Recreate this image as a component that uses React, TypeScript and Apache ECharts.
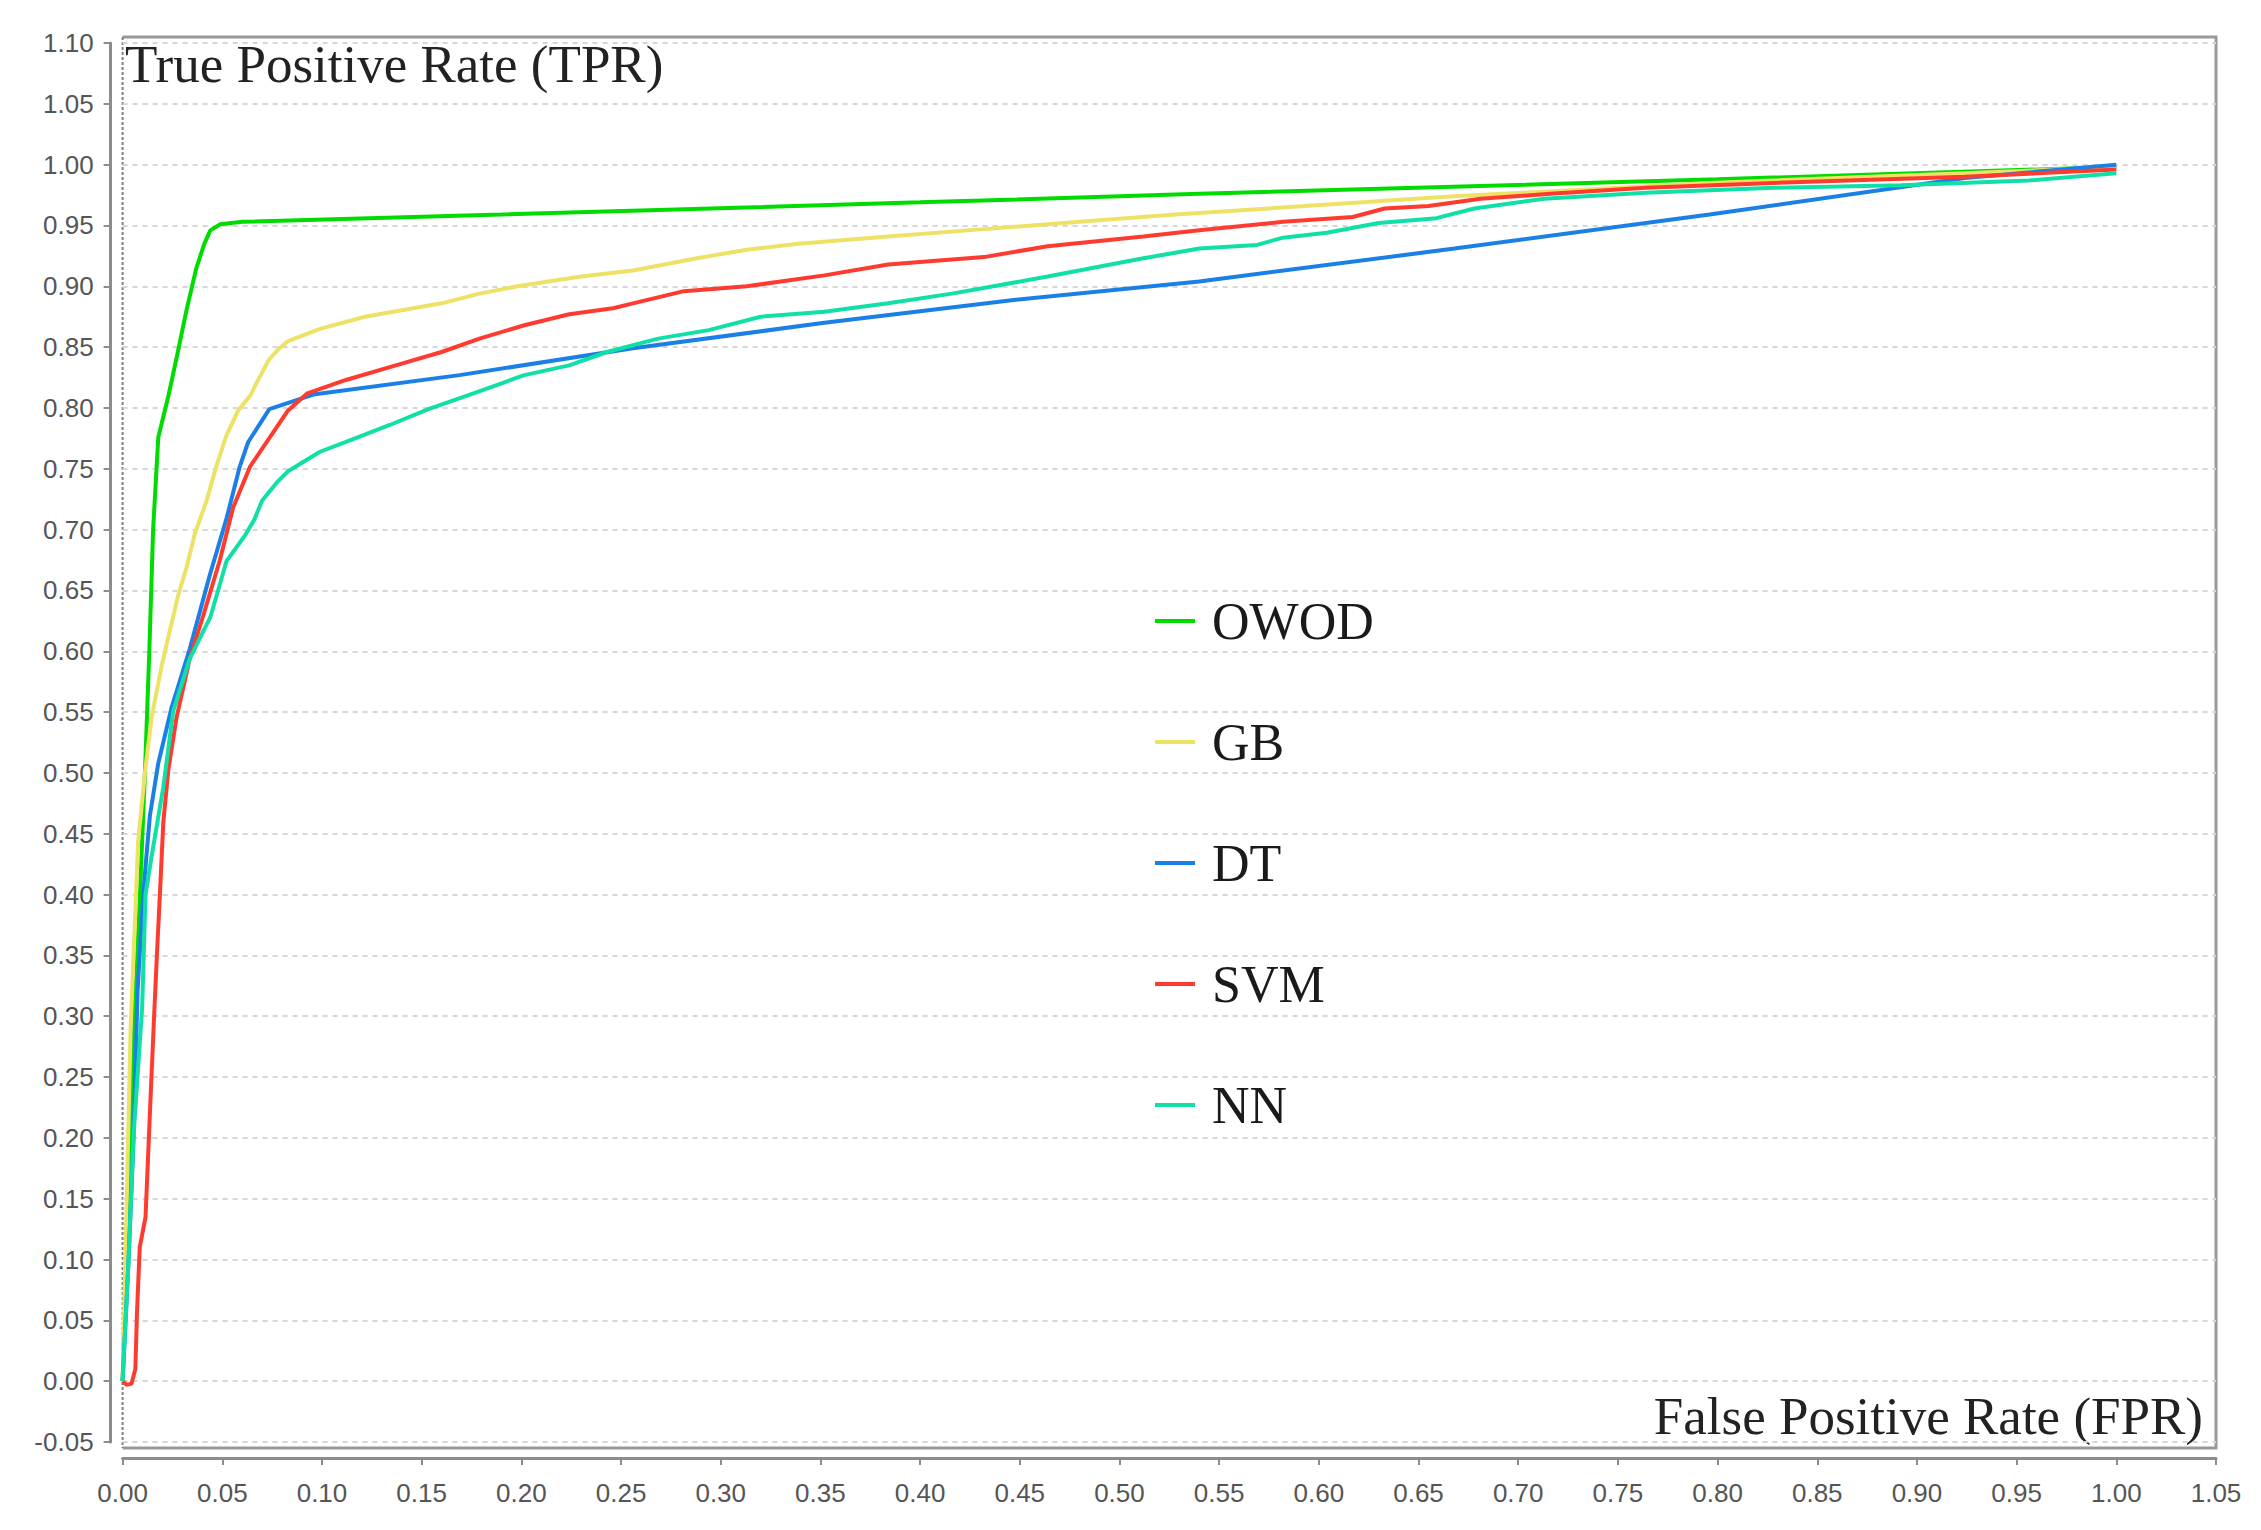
import React, { useEffect, useRef } from "react";
import * as echarts from "echarts";

type Pt = [number, number];

const modelNames = ["OWOD", "GB", "DT", "SVM", "NN"];
const modelColors = ["#00dc00", "#eee266", "#1a80e6", "#ff3b2f", "#10e0a6"];

const owod: Pt[] = [
  [0, 0], [0.002, 0.1], [0.004, 0.2], [0.006, 0.3], [0.0087, 0.4], [0.0112, 0.5],
  [0.0134, 0.6], [0.0153, 0.7], [0.0179, 0.776], [0.023, 0.81], [0.0277, 0.846],
  [0.032, 0.88], [0.037, 0.915], [0.041, 0.935], [0.044, 0.946], [0.049, 0.951],
  [0.06, 0.953], [0.19, 0.959], [0.4, 0.969], [0.54, 0.976], [0.8, 0.988], [1, 0.998],
];

const gb: Pt[] = [
  [0, 0], [0.0012, 0.085], [0.004, 0.29], [0.0078, 0.444], [0.0112, 0.5], [0.0145, 0.545],
  [0.0196, 0.588], [0.0237, 0.617], [0.0279, 0.646], [0.0321, 0.669], [0.0363, 0.697],
  [0.042, 0.723], [0.047, 0.752], [0.052, 0.777], [0.058, 0.798], [0.064, 0.81],
  [0.067, 0.82], [0.0735, 0.84], [0.078, 0.848], [0.083, 0.855], [0.099, 0.865],
  [0.1215, 0.875], [0.16, 0.886], [0.179, 0.894], [0.198, 0.9], [0.23, 0.908],
  [0.256, 0.913], [0.288, 0.923], [0.313, 0.93], [0.339, 0.935], [0.384, 0.941],
  [0.432, 0.947], [0.48, 0.953], [0.528, 0.959], [0.565, 0.963], [0.668, 0.974],
  [0.796, 0.985], [0.924, 0.993], [1, 0.998],
];

const dt: Pt[] = [
  [0, 0], [0.003, 0.1], [0.0055, 0.2], [0.0075, 0.32], [0.0103, 0.4], [0.0137, 0.465],
  [0.0179, 0.508], [0.0246, 0.554], [0.0337, 0.602], [0.0438, 0.663], [0.0521, 0.709],
  [0.0588, 0.752], [0.063, 0.772], [0.0736, 0.799], [0.0956, 0.811], [0.169, 0.827],
  [0.256, 0.849], [0.352, 0.87], [0.448, 0.889], [0.54, 0.904], [0.668, 0.931],
  [0.796, 0.959], [0.924, 0.989], [1, 1.0],
];

const svm: Pt[] = [
  [0, 0], [0.002, -0.003], [0.0045, -0.002], [0.0064, 0.01], [0.0072, 0.056],
  [0.0086, 0.11], [0.0115, 0.135], [0.014, 0.232], [0.0158, 0.3], [0.0172, 0.35],
  [0.0187, 0.4], [0.0204, 0.459], [0.0229, 0.502], [0.027, 0.545], [0.0337, 0.594],
  [0.0404, 0.629], [0.0488, 0.675], [0.0554, 0.718], [0.064, 0.752], [0.0735, 0.775],
  [0.083, 0.798], [0.0927, 0.812], [0.112, 0.823], [0.137, 0.835], [0.16, 0.846],
  [0.179, 0.857], [0.2015, 0.868], [0.224, 0.877], [0.246, 0.882], [0.256, 0.886],
  [0.2815, 0.896], [0.313, 0.9], [0.352, 0.909], [0.384, 0.918], [0.432, 0.924],
  [0.464, 0.933], [0.512, 0.941], [0.54, 0.946], [0.582, 0.953], [0.617, 0.957],
  [0.633, 0.964], [0.655, 0.966], [0.681, 0.972], [0.716, 0.976], [0.764, 0.981],
  [0.828, 0.985], [0.924, 0.99], [1, 0.996],
];

const nn: Pt[] = [
  [0, 0], [0.003, 0.1], [0.0055, 0.202], [0.0098, 0.307], [0.0115, 0.4], [0.0145, 0.431],
  [0.0204, 0.488], [0.0254, 0.551], [0.0337, 0.594], [0.044, 0.628], [0.0521, 0.674],
  [0.0613, 0.695], [0.066, 0.708], [0.07, 0.724], [0.0775, 0.739], [0.083, 0.748],
  [0.099, 0.764], [0.115, 0.774], [0.134, 0.786], [0.1534, 0.799], [0.176, 0.812],
  [0.2015, 0.827], [0.224, 0.835], [0.243, 0.846], [0.2686, 0.857], [0.294, 0.864],
  [0.32, 0.875], [0.352, 0.879], [0.384, 0.886], [0.416, 0.894], [0.464, 0.908],
  [0.512, 0.923], [0.54, 0.931], [0.569, 0.934], [0.582, 0.94], [0.604, 0.944],
  [0.63, 0.952], [0.659, 0.956], [0.678, 0.964], [0.713, 0.972], [0.764, 0.977],
  [0.828, 0.981], [0.892, 0.983], [0.956, 0.987], [1, 0.993],
];

const modelData: Pt[][] = [owod, gb, dt, svm, nn];

const yTitle = "True Positive Rate (TPR)";
const xTitle = "False Positive Rate (FPR)";

const W = 2261;
const H = 1530;
const PL = 122.6;
const PR = 2216;
const PT = 37;
const PB = 1448;

export default function App() {
  const ref = useRef<HTMLDivElement>(null);

  useEffect(() => {
    document.body.style.margin = "0";
    if (!ref.current) return;
    const chart = echarts.init(ref.current, undefined, { renderer: "svg" });
    const labelStyle = {
      fontFamily: "Liberation Sans",
      fontSize: 26,
      color: "#555555",
    };
    chart.setOption({
      animation: false,
      backgroundColor: "#ffffff",
      grid: { left: PL, right: W - PR, top: 43, bottom: H - 1442, containLabel: false },
      xAxis: {
        type: "value",
        min: 0,
        max: 1.05,
        interval: 0.05,
        offset: 16,
        axisLine: { show: true, onZero: false, lineStyle: { color: "#8c8c8c", width: 3 } },
        axisTick: { show: true, length: 7, lineStyle: { color: "#8c8c8c", width: 2 } },
        axisLabel: { ...labelStyle, margin: 22, formatter: (v: number) => v.toFixed(2) },
        splitLine: { show: false },
      },
      yAxis: {
        type: "value",
        min: -0.05,
        max: 1.1,
        interval: 0.05,
        offset: 12,
        axisLine: { show: true, onZero: false, lineStyle: { color: "#8c8c8c", width: 3 } },
        axisTick: { show: true, length: 7, lineStyle: { color: "#8c8c8c", width: 2 } },
        axisLabel: { ...labelStyle, margin: 17, formatter: (v: number) => v.toFixed(2) },
        splitLine: { show: true, lineStyle: { color: "#d6d6d6", width: 2, type: [5, 5] } },
      },
      legend: {
        orient: "vertical",
        left: 1150,
        top: 590,
        itemGap: 69,
        itemWidth: 40,
        itemHeight: 4,
        icon: "rect",
        data: modelNames,
        textStyle: {
          fontFamily: "Liberation Serif",
          fontSize: 52,
          color: "#1a1a1a",
          padding: [0, 0, 0, 12],
        },
      },
      graphic: [
        {
          type: "polyline",
          silent: true,
          shape: { points: [[PL, PT], [PR, PT], [PR, PB], [PL, PB]] },
          style: { stroke: "#999999", lineWidth: 3, fill: "none" },
        },
        {
          type: "line",
          silent: true,
          shape: { x1: PL, y1: PT, x2: PL, y2: PB },
          style: { stroke: "#808080", lineWidth: 2, lineDash: [3, 2] },
        },
        {
          type: "text",
          silent: true,
          x: 125,
          y: 64,
          style: {
            text: yTitle,
            fontFamily: "Liberation Serif",
            fontSize: 53,
            fill: "#222222",
            align: "left",
            verticalAlign: "middle",
          },
        },
        {
          type: "text",
          silent: true,
          x: 2203,
          y: 1416,
          style: {
            text: xTitle,
            fontFamily: "Liberation Serif",
            fontSize: 53,
            fill: "#222222",
            align: "right",
            verticalAlign: "middle",
          },
        },
      ],
      series: modelNames.map((name, i) => ({
        name,
        type: "line",
        data: modelData[i],
        showSymbol: false,
        symbol: "none",
        color: modelColors[i],
        lineStyle: { color: modelColors[i], width: 4 },
        z: 2 + i,
      })),
    });
    return () => chart.dispose();
  }, []);

  return (
    <div
      ref={ref}
      style={{ position: "absolute", left: 0, top: 0, width: W, height: H, background: "#fff" }}
    />
  );
}
